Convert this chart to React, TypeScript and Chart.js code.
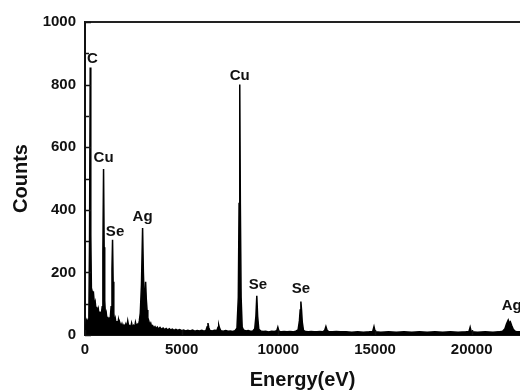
import React, { useEffect, useRef } from "react";
import { Chart, registerables } from "chart.js";

Chart.register(...registerables);

const energy: number[] = [
  0, 40, 80, 120, 160, 200, 235, 270, 300, 330, 370, 410, 450, 490, 530, 570, 610, 650, 690, 730,
  770, 810, 850, 890, 925, 960, 990, 1020, 1060, 1100, 1140, 1180, 1220, 1260, 1300, 1350, 1395, 1425, 1455, 1490,
  1530, 1570, 1610, 1650, 1690, 1730, 1770, 1810, 1860, 1910, 1960, 2010, 2060, 2110, 2160, 2210, 2260, 2310, 2360, 2410,
  2460, 2510, 2560, 2610, 2660, 2710, 2760, 2810, 2860, 2920, 2979, 3020, 3060, 3100, 3135, 3170, 3210, 3250, 3300, 3350,
  3400, 3450, 3500, 3560, 3620, 3680, 3740, 3800, 3880, 3960, 4040, 4120, 4200, 4280, 4360, 4440, 4520, 4600, 4700, 4800,
  4900, 5000, 5100, 5200, 5320, 5440, 5560, 5680, 5800, 5920, 6040, 6160, 6260, 6320, 6360, 6400, 6460, 6580, 6700, 6820,
  6880, 6917, 6960, 7020, 7150, 7280, 7400, 7520, 7640, 7760, 7860, 7930, 7970, 8005, 8035, 8075, 8130, 8200, 8320, 8440,
  8560, 8680, 8780, 8840, 8886, 8930, 8990, 9080, 9200, 9350, 9500, 9650, 9800, 9920, 9974, 10030, 10150, 10300, 10450, 10600,
  10750, 10900, 11020, 11090, 11130, 11166, 11200, 11240, 11300, 11400, 11550, 11700, 11850, 12000, 12150, 12300, 12400, 12461, 12520, 12620,
  12800, 13000, 13200, 13500, 13800, 14100, 14400, 14700, 14880, 14948, 15010, 15300, 15700, 16100, 16500, 16900, 17300, 17700, 18100, 18500,
  18900, 19300, 19700, 19860, 19922, 19980, 20300, 20700, 21100, 21400, 21600, 21720, 21800, 21891, 21950, 22000, 22070, 22150, 22250, 22350,
  22500,
];

const counts: number[] = [
  0, 30, 45, 35, 50, 60, 300, 855, 320, 150, 140, 112, 125, 95, 105, 80, 90, 70, 82, 62,
  75, 58, 70, 90, 260, 530, 280, 110, 60, 70, 48, 58, 45, 52, 48, 90, 210, 304, 170, 70,
  40, 52, 35, 45, 30, 48, 32, 38, 28, 36, 25, 32, 26, 35, 24, 45, 28, 30, 22, 38,
  24, 30, 22, 40, 26, 34, 30, 45, 70, 160, 342, 200, 120, 105, 170, 115, 80, 55, 45, 32,
  38, 26, 30, 22, 27, 20, 25, 19, 24, 18, 22, 17, 21, 16, 20, 16, 19, 15, 18, 15,
  17, 14, 16, 13, 15, 13, 16, 12, 14, 13, 15, 12, 15, 26, 38, 24, 14, 13, 15, 14,
  25, 32, 22, 14, 12, 14, 12, 13, 11, 14, 22, 120, 420, 800, 420, 120, 25, 16, 13, 14,
  12, 13, 20, 60, 125, 60, 18, 13, 11, 12, 10, 12, 11, 14, 25, 12, 10, 11, 10, 11,
  10, 12, 16, 45, 80, 107, 80, 40, 15, 11, 10, 11, 10, 10, 11, 10, 15, 27, 15, 10,
  10, 11, 10, 10, 9, 10, 9, 10, 11, 27, 10, 9, 10, 9, 10, 9, 10, 9, 10, 9,
  10, 9, 10, 11, 25, 10, 9, 10, 9, 10, 12, 20, 35, 48, 38, 42, 30, 18, 12, 10,
  10,
];

const peakLabels: string[] = ["C", "Cu", "Se", "Ag", "Cu", "Se", "Se", "Ag"];
const peakLabelEnergy: number[] = [389, 959, 1554, 2979, 8005, 8938, 11166, 22073];
const peakLabelCounts: number[] = [870, 554, 317, 365, 816, 147, 134, 80];

const xTickValues: number[] = [0, 5000, 10000, 15000, 20000];
const yTickValues: number[] = [0, 200, 400, 600, 800, 1000];
const yMinorTickValues: number[] = [100, 300, 500, 700, 900];

const FONT = "'Liberation Sans', Arial, Helvetica, sans-serif";

const decorPlugin = {
  id: "decor",
  afterDraw(chart: any) {
    const { ctx, chartArea, scales } = chart;
    const x = scales.x;
    const y = scales.y;
    ctx.save();
    ctx.strokeStyle = "#222";
    ctx.lineWidth = 2;
    ctx.beginPath();
    ctx.moveTo(chartArea.left, chartArea.top);
    ctx.lineTo(chartArea.right, chartArea.top);
    ctx.stroke();
    ctx.strokeStyle = "#111";
    ctx.lineWidth = 1.5;
    ctx.beginPath();
    for (const v of yTickValues) {
      const py = Math.round(y.getPixelForValue(v)) + 0.5;
      ctx.moveTo(chartArea.left, py);
      ctx.lineTo(chartArea.left + 6, py);
    }
    for (const v of yMinorTickValues) {
      const py = Math.round(y.getPixelForValue(v)) + 0.5;
      ctx.moveTo(chartArea.left, py);
      ctx.lineTo(chartArea.left + 4, py);
    }
    for (const v of xTickValues) {
      const px = Math.round(x.getPixelForValue(v)) + 0.5;
      ctx.moveTo(px, chartArea.bottom);
      ctx.lineTo(px, chartArea.bottom - 5);
    }
    ctx.stroke();
    ctx.fillStyle = "#111";
    ctx.font = `bold 15px ${FONT}`;
    ctx.textAlign = "center";
    ctx.textBaseline = "alphabetic";
    peakLabels.forEach((t, i) => {
      ctx.fillText(t, x.getPixelForValue(peakLabelEnergy[i]), y.getPixelForValue(peakLabelCounts[i]));
    });
    ctx.restore();
  },
};

export default function App() {
  const ref = useRef<HTMLCanvasElement | null>(null);
  useEffect(() => {
    if (!ref.current) return;
    const chart = new Chart(ref.current, {
      type: "line",
      data: {
        datasets: [
          {
            data: energy.map((e, i) => ({ x: e, y: counts[i] })),
            borderColor: "#000",
            backgroundColor: "#000",
            borderWidth: 1.5,
            pointRadius: 0,
            fill: "origin",
            tension: 0,
          },
        ],
      },
      options: {
        animation: false,
        responsive: false,
        maintainAspectRatio: false,
        layout: { padding: { top: 22, right: 0, left: 0, bottom: 0 } },
        plugins: { legend: { display: false }, tooltip: { enabled: false } },
        scales: {
          x: {
            type: "linear",
            min: 0,
            max: 22500,
            afterFit: (s: any) => {
              s.height = 56;
            },
            afterBuildTicks: (s: any) => {
              s.ticks = xTickValues.map((v) => ({ value: v }));
            },
            ticks: {
              color: "#111",
              font: { family: FONT, size: 15, weight: "bold" },
              padding: 6,
              maxRotation: 0,
              autoSkip: false,
              callback: (v: any) => String(v),
            },
            grid: { display: false, drawTicks: false },
            border: { display: true, color: "#111", width: 2 },
            title: {
              display: true,
              text: "Energy(eV)",
              color: "#111",
              font: { family: FONT, size: 20, weight: "bold", lineHeight: 1 },
              padding: { top: 0, bottom: 1 },
            },
          },
          y: {
            type: "linear",
            min: 0,
            max: 1000,
            afterFit: (s: any) => {
              s.width = 85;
            },
            afterBuildTicks: (s: any) => {
              s.ticks = yTickValues.map((v) => ({ value: v }));
            },
            ticks: {
              color: "#111",
              font: { family: FONT, size: 15, weight: "bold" },
              padding: 9,
              callback: (v: any) => String(v),
            },
            grid: { display: false, drawTicks: false },
            border: { display: true, color: "#111", width: 2 },
            title: {
              display: true,
              text: "Counts",
              color: "#111",
              font: { family: FONT, size: 20, weight: "bold", lineHeight: 1.2 },
              padding: { top: 9, bottom: 0 },
            },
          },
        },
      },
      plugins: [decorPlugin],
    } as any);
    return () => chart.destroy();
  }, []);
  return (
    <div style={{ position: "absolute", left: 0, top: 0, width: 520, height: 391, background: "#fff" }}>
      <canvas ref={ref} width={520} height={391} style={{ display: "block", width: 520, height: 391 }} />
    </div>
  );
}
